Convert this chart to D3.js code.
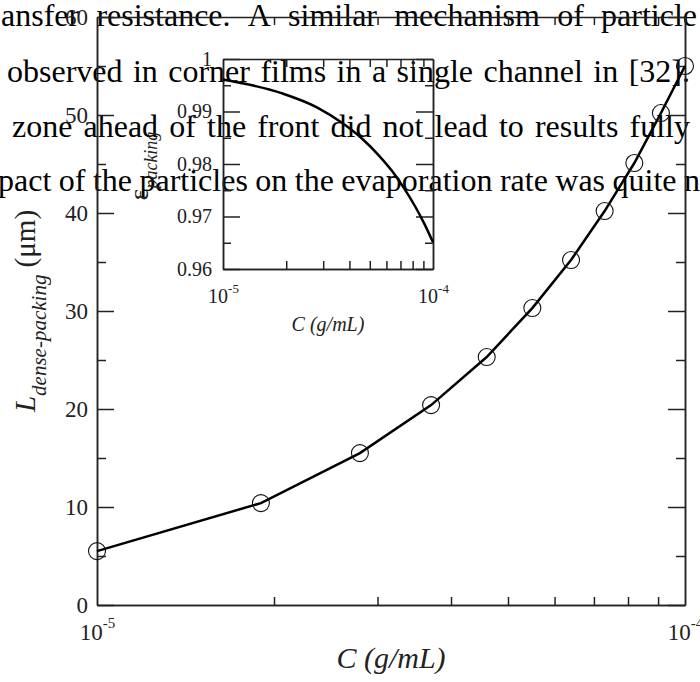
<!DOCTYPE html>
<html><head><meta charset="utf-8">
<script src="https://cdn.jsdelivr.net/npm/d3@7"></script>
<style>html,body{margin:0;padding:0;background:#fff;} svg{display:block;}</style>
</head><body><svg id="c" width="700" height="682"></svg>
<script>
// ---- data ----
const concentration = [1.0e-5, 1.9e-5, 2.8e-5, 3.7e-5, 4.6e-5, 5.5e-5, 6.4e-5, 7.3e-5, 8.2e-5, 9.1e-5, 1.0e-4];
const denseLength = [5.5, 10.4, 15.5, 20.4, 25.3, 30.3, 35.2, 40.2, 45.1, 50.2, 55.0];
const packingFraction = [0.9961, 0.9935, 0.9908, 0.9878, 0.9848, 0.9817, 0.9786, 0.9753, 0.9720, 0.9686, 0.9651];
const mainYTicks = [0, 10, 20, 30, 40, 50, 60];
const mainYMinor = [5, 15, 25, 35, 45, 55];
const xMajor = [1e-5, 1e-4];
const xMinor = [2e-5, 3e-5, 4e-5, 5e-5, 6e-5, 7e-5, 8e-5, 9e-5];
const insetYTicks = [0.96, 0.97, 0.98, 0.99, 1.0];
const insetYMinor = [0.965, 0.975, 0.985, 0.995];
const paragraphLines = [
  "ansfer resistance. A similar mechanism of particle",
  "observed in corner films in a single channel in [32].",
  "zone ahead of the front did not lead to results fully",
  "pact of the particles on the evaporation rate was quite n"
];

const svg = d3.select("#c");
const serif = "'Liberation Serif','Times New Roman',Times,serif";
const ink = "#222";

// ---- background paragraph text (justified) ----
const lineLayout = [
  {x0: 1, x1: 697, y: 26},
  {x0: 7, x1: 690, y: 82},
  {x0: 12, x1: 690, y: 137},
  {x0: -2, x1: 700, y: 191}
];
const pg = svg.append("g");
paragraphLines.forEach((txt, li) => {
  const L = lineLayout[li];
  const words = txt.split(" ");
  const nodes = words.map(w => pg.append("text").attr("y", L.y)
    .attr("font-family", serif).attr("font-size", 32).attr("fill", "#000").text(w));
  const widths = nodes.map(n => n.node().getComputedTextLength());
  const gap = (L.x1 - L.x0 - d3.sum(widths)) / (words.length - 1);
  let cx = L.x0;
  nodes.forEach((n, i) => { n.attr("x", cx); cx += widths[i] + gap; });
});

function styleAxis(g, fs) {
  g.selectAll("path,line").attr("stroke", ink).attr("stroke-width", 1.5);
  g.selectAll("text").attr("font-family", serif).attr("fill", ink).attr("font-size", fs);
  g.attr("font-size", fs);
}
const blank = () => "";

function expLabels(g, fs, base) {
  g.selectAll(".tick text").each(function(d) {
    const t = d3.select(this);
    t.text(null).attr("y", base).attr("dy", 0).attr("text-anchor", "middle");
    t.append("tspan").attr("font-size", fs).text("10");
    t.append("tspan").attr("font-size", Math.round(fs * 0.65)).attr("dy", -Math.round(fs * 0.5))
      .text(String(Math.round(Math.log10(d))));
  });
}

function drawFrame(x, y, box, yMajor, yMinor, yFmt, fsY, fsX, padY, major, minor, xBase) {
  const [l, r, t, b] = box;
  let g;
  g = svg.append("g").attr("transform", `translate(${l},0)`)
    .call(d3.axisLeft(y).tickValues(yMajor).tickSize(-major).tickSizeOuter(0).tickPadding(padY).tickFormat(yFmt));
  styleAxis(g, fsY);
  g = svg.append("g").attr("transform", `translate(${l},0)`)
    .call(d3.axisLeft(y).tickValues(yMinor).tickSize(-minor).tickSizeOuter(0).tickFormat(blank));
  styleAxis(g, fsY);
  g = svg.append("g").attr("transform", `translate(${r},0)`)
    .call(d3.axisRight(y).tickValues(yMajor).tickSize(-major).tickSizeOuter(0).tickFormat(blank));
  styleAxis(g, fsY);
  g = svg.append("g").attr("transform", `translate(${r},0)`)
    .call(d3.axisRight(y).tickValues(yMinor).tickSize(-minor).tickSizeOuter(0).tickFormat(blank));
  styleAxis(g, fsY);
  g = svg.append("g").attr("transform", `translate(0,${b})`)
    .call(d3.axisBottom(x).tickValues(xMinor).tickSize(-8).tickSizeOuter(0).tickFormat(blank));
  styleAxis(g, fsX);
  g = svg.append("g").attr("transform", `translate(0,${b})`)
    .call(d3.axisBottom(x).tickValues(xMajor).tickSize(0).tickSizeOuter(0).tickFormat(blank));
  styleAxis(g, fsX);
  expLabels(g, fsX, xBase);
  g = svg.append("g").attr("transform", `translate(0,${t})`)
    .call(d3.axisTop(x).tickValues(xMinor).tickSize(-8).tickSizeOuter(0).tickFormat(blank));
  styleAxis(g, fsX);
}

// ---- main chart ----
const x = d3.scaleLog().domain([1e-5, 1e-4]).range([97, 685]);
const y = d3.scaleLinear().domain([0, 60]).range([605, 17]);
drawFrame(x, y, [97, 685, 17, 605], mainYTicks, mainYMinor, d3.format("d"), 23, 23, 9, 17, 9, 35);

const idx = d3.range(concentration.length);
svg.append("path")
  .attr("d", d3.line().x(i => x(concentration[i])).y(i => y(denseLength[i]))(idx))
  .attr("fill", "none").attr("stroke", "#000").attr("stroke-width", 2.5);
svg.append("g").selectAll("circle").data(idx).join("circle")
  .attr("cx", i => x(concentration[i])).attr("cy", i => y(denseLength[i])).attr("r", 8.5)
  .attr("fill", "none").attr("stroke", "#111").attr("stroke-width", 1.1);

svg.append("text").attr("x", 391).attr("y", 668).attr("text-anchor", "middle")
  .attr("font-family", serif).attr("font-style", "italic").attr("font-size", 30).attr("fill", ink)
  .text("C (g/mL)");
const yl = svg.append("text").attr("transform", "translate(35,311) rotate(-90)")
  .attr("text-anchor", "middle").attr("font-family", serif).attr("fill", ink);
yl.append("tspan").attr("font-style", "italic").attr("font-size", 29).text("L");
yl.append("tspan").attr("font-style", "italic").attr("font-size", 21).attr("dy", 11).text("dense-packing");
yl.append("tspan").attr("font-size", 29).attr("dy", -11).text(" (\u03bcm)");

// ---- inset ----
const xi = d3.scaleLog().domain([1e-5, 1e-4]).range([223, 433]);
const yi = d3.scaleLinear().domain([0.96, 1.0]).range([269, 59]);
drawFrame(xi, yi, [223, 433, 59, 269], insetYTicks, insetYMinor,
  d => d === 1 ? "1" : d3.format(".2f")(d), 20, 20, 11, 17, 8, 34);

svg.append("path")
  .attr("d", d3.line().curve(d3.curveMonotoneX).x(i => xi(concentration[i])).y(i => yi(packingFraction[i]))(idx))
  .attr("fill", "none").attr("stroke", "#000").attr("stroke-width", 2.5);

svg.append("text").attr("x", 328).attr("y", 331).attr("text-anchor", "middle")
  .attr("font-family", serif).attr("font-style", "italic").attr("font-size", 20).attr("fill", ink)
  .text("C (g/mL)");
const il = svg.append("text").attr("transform", "translate(148,166) rotate(-90)")
  .attr("text-anchor", "middle").attr("font-family", serif).attr("fill", ink);
il.append("tspan").attr("font-size", 28).text("\u03b5");
il.append("tspan").attr("font-style", "italic").attr("font-size", 18).attr("dy", 9).text("packing");
</script>
</body></html>
